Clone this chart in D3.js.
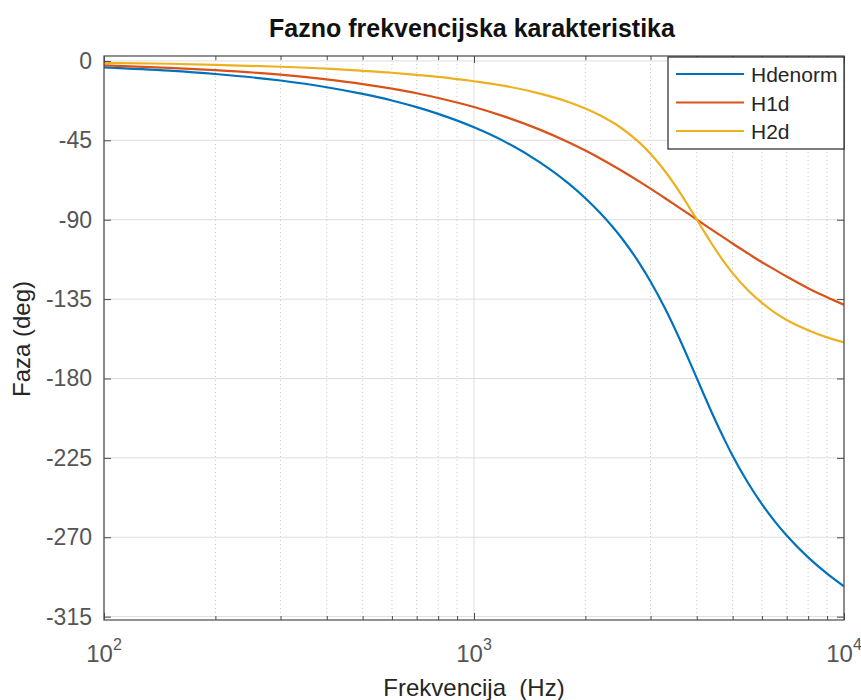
<!DOCTYPE html>
<html><head><meta charset="utf-8">
<script src="https://cdn.jsdelivr.net/npm/d3@7"></script>
<style>
body{margin:0;background:#fff}
svg{display:block}
text{font-family:"Liberation Sans",Arial,Helvetica,sans-serif;white-space:pre}
</style>
</head><body>
<svg id="chart" width="861" height="700"></svg>
<script>
// ---- data ----
const freq = [100,150,200,300,400,500,600,700,800,1000,1200,1500,1800,2000,2200,2500,2800,3000,3300,3600,3800,4000,4200,4400,4800,5000,5500,6000,6500,7000,8000,9000,10000];
const hdenorm = [-3.6,-5.5,-7.4,-11.1,-14.9,-18.7,-22.4,-26.2,-30.0,-37.6,-45.3,-57.2,-69.4,-77.8,-86.5,-100.1,-114.7,-125.0,-141.2,-157.9,-169.0,-179.8,-190.1,-199.7,-216.5,-223.8,-239.1,-251.2,-261.0,-269.0,-281.4,-290.6,-297.8];
const h1d = [-2.5,-3.9,-5.2,-7.8,-10.5,-13.1,-15.7,-18.3,-21.0,-26.1,-31.3,-38.8,-46.1,-50.8,-55.4,-62.1,-68.4,-72.4,-78.1,-83.4,-86.7,-89.9,-92.9,-95.8,-101.0,-103.5,-109.1,-114.1,-118.3,-122.2,-128.8,-133.9,-138.2];
const h2d = [-1.1,-1.6,-2.2,-3.3,-4.4,-5.6,-6.7,-7.9,-9.0,-11.5,-14.0,-18.4,-23.3,-27.0,-31.1,-38.0,-46.3,-52.6,-63.1,-74.5,-82.3,-89.9,-97.2,-103.9,-115.5,-120.3,-130.0,-137.1,-142.7,-146.8,-152.6,-156.7,-159.6];
const seriesNames = ["Hdenorm","H1d","H2d"];
const seriesColors = ["#0072BD","#D95319","#EDB120"];
const yTicks = [0,-45,-90,-135,-180,-225,-270,-315];
const xMajor = [100,1000,10000];
const xMajorExp = ["2","3","4"];
const xMinor = [200,300,400,500,600,700,800,900,2000,3000,4000,5000,6000,7000,8000,9000];
const titleText = "Fazno frekvencijska karakteristika";
const xLabelText = "Frekvencija  (Hz)";
const yLabelText = "Faza (deg)";

// ---- layout ----
const L = 104, R = 844, T = 56, B = 620;
const svg = d3.select("#chart");
const x = d3.scaleLog().domain([100, 10000]).range([L, R]);
const y = d3.scaleLinear().domain([-316.9, 2.8]).range([B, T]);

svg.append("rect").attr("x",0).attr("y",0).attr("width",861).attr("height",700).attr("fill","#fff");

// grid
const grid = svg.append("g");
grid.selectAll("line.minor").data(xMinor).join("line")
  .attr("x1", d => x(d)).attr("x2", d => x(d)).attr("y1", T).attr("y2", B)
  .attr("stroke", "#c8c8c8").attr("stroke-width", 1).attr("stroke-dasharray", "1,3");
grid.selectAll("line.xmaj").data(xMajor).join("line")
  .attr("x1", d => x(d)).attr("x2", d => x(d)).attr("y1", T).attr("y2", B)
  .attr("stroke", "#dedede").attr("stroke-width", 1);
grid.selectAll("line.ymaj").data(yTicks).join("line")
  .attr("x1", L).attr("x2", R).attr("y1", d => y(d)).attr("y2", d => y(d))
  .attr("stroke", "#dedede").attr("stroke-width", 1);

// curves
svg.append("clipPath").attr("id","clip").append("rect")
  .attr("x", L).attr("y", T).attr("width", R - L).attr("height", B - T);
const series = [hdenorm, h1d, h2d];
const line = d3.line().x(d => x(d[0])).y(d => y(d[1])).curve(d3.curveMonotoneX);
const plot = svg.append("g").attr("clip-path","url(#clip)");
series.forEach((s, i) => {
  plot.append("path").datum(freq.map((f, j) => [f, s[j]]))
    .attr("d", line).attr("fill","none")
    .attr("stroke", seriesColors[i]).attr("stroke-width", 2.2)
    .attr("stroke-linejoin","round");
});

// axes
const axisColor = "#4a4a4a";
const tickColor = "#555555";
function styleAxis(g){
  g.select(".domain").remove();
  g.selectAll(".tick line").attr("stroke", axisColor);
}
svg.append("g").attr("transform",`translate(${L},0)`)
  .call(d3.axisLeft(y).tickValues(yTicks).tickSizeInner(-7).tickSizeOuter(0).tickPadding(12).tickFormat(d => String(d)))
  .call(styleAxis)
  .call(g => g.selectAll("text").attr("font-size", 23).attr("fill", tickColor)
    .attr("font-family", '"Liberation Sans",Arial,Helvetica,sans-serif'));
svg.append("g").attr("transform",`translate(${R},0)`)
  .call(d3.axisRight(y).tickValues(yTicks).tickSizeInner(-7).tickSizeOuter(0).tickFormat(""))
  .call(styleAxis);
svg.append("g").attr("transform",`translate(0,${B})`)
  .call(d3.axisBottom(x).tickValues(xMajor).tickSizeInner(-7).tickSizeOuter(0).tickFormat(""))
  .call(styleAxis);
svg.append("g").attr("transform",`translate(0,${B})`)
  .call(d3.axisBottom(x).tickValues(xMinor).tickSizeInner(-4).tickSizeOuter(0).tickFormat(""))
  .call(styleAxis);
svg.append("g").attr("transform",`translate(0,${T})`)
  .call(d3.axisTop(x).tickValues(xMajor).tickSizeInner(-7).tickSizeOuter(0).tickFormat(""))
  .call(styleAxis);
svg.append("g").attr("transform",`translate(0,${T})`)
  .call(d3.axisTop(x).tickValues(xMinor).tickSizeInner(-4).tickSizeOuter(0).tickFormat(""))
  .call(styleAxis);

// x tick labels with superscripts
const xl = svg.append("g");
xMajor.forEach((v, i) => {
  const t = xl.append("text").attr("x", x(v)).attr("y", 662)
    .attr("text-anchor","middle").attr("fill", tickColor).attr("font-size", 24);
  t.append("tspan").text("10");
  t.append("tspan").attr("font-size", 16).attr("dy", -12).text(xMajorExp[i]);
});

// frame
svg.append("rect").attr("x", L).attr("y", T).attr("width", R - L).attr("height", B - T)
  .attr("fill","none").attr("stroke", axisColor).attr("stroke-width", 1.2);

// title and labels
svg.append("text").attr("x", 472).attr("y", 37).attr("text-anchor","middle")
  .attr("font-size", 25).attr("font-weight","bold").attr("fill","#111").text(titleText);
svg.append("text").attr("x", 474).attr("y", 696).attr("text-anchor","middle")
  .attr("font-size", 24).attr("fill","#262626").attr("xml:space","preserve").text(xLabelText);
svg.append("text").attr("transform","translate(30,339) rotate(-90)").attr("text-anchor","middle")
  .attr("font-size", 24).attr("fill","#262626").text(yLabelText);

// legend
const lg = svg.append("g");
lg.append("rect").attr("x", 668).attr("y", 57).attr("width", 176).attr("height", 92)
  .attr("fill","#fff").attr("stroke","#262626").attr("stroke-width", 1.2);
seriesNames.forEach((n, i) => {
  const yy = 74 + i * 28.5;
  lg.append("line").attr("x1", 676).attr("x2", 744).attr("y1", yy).attr("y2", yy)
    .attr("stroke", seriesColors[i]).attr("stroke-width", 2.2);
  lg.append("text").attr("x", 751).attr("y", yy + 8).attr("font-size", 21)
    .attr("fill","#262626").text(n);
});
</script>
</body></html>
